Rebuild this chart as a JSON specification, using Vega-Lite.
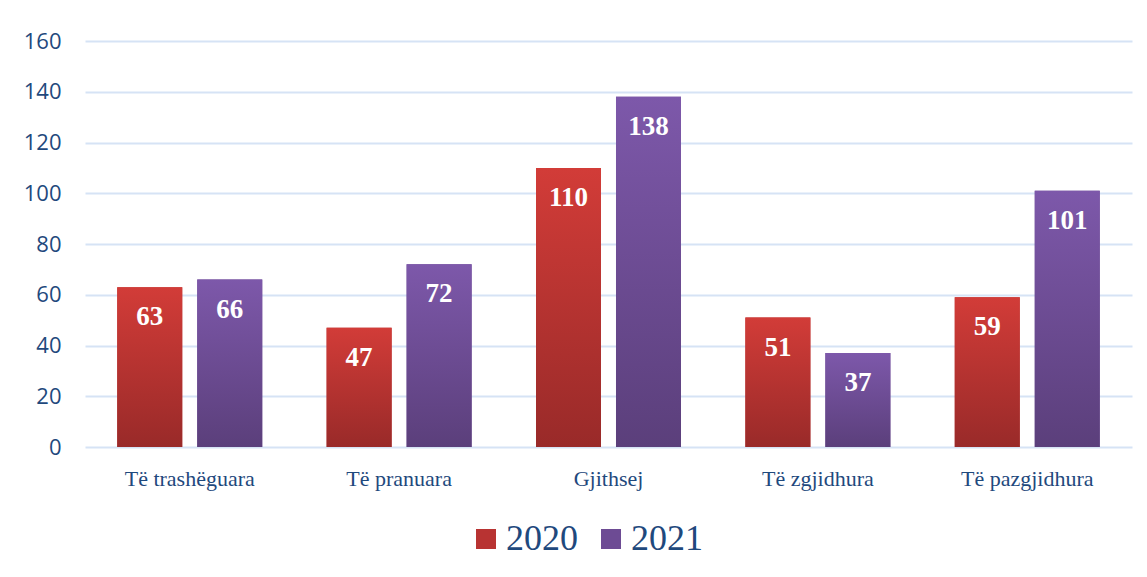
{
  "$schema": "https://vega.github.io/schema/vega-lite/v6.json",
  "width": 1047,
  "height": 406,
  "autosize": {"type": "none"},
  "padding": {"left": 85, "top": 41, "right": 15, "bottom": 130},
  "background": "white",
  "config": {
    "view": {"stroke": null},
    "axis": {"domain": false, "ticks": false, "title": null}
  },
  "data": {
    "values": [
      {"category": "Të trashëguara", "year": "2020", "value": 63},
      {"category": "Të trashëguara", "year": "2021", "value": 66},
      {"category": "Të pranuara", "year": "2020", "value": 47},
      {"category": "Të pranuara", "year": "2021", "value": 72},
      {"category": "Gjithsej", "year": "2020", "value": 110},
      {"category": "Gjithsej", "year": "2021", "value": 138},
      {"category": "Të zgjidhura", "year": "2020", "value": 51},
      {"category": "Të zgjidhura", "year": "2021", "value": 37},
      {"category": "Të pazgjidhura", "year": "2020", "value": 59},
      {"category": "Të pazgjidhura", "year": "2021", "value": 101}
    ]
  },
  "encoding": {
    "x": {
      "field": "category", "type": "nominal", "sort": null,
      "scale": {"paddingInner": 0.3075, "paddingOuter": 0.154},
      "axis": {"labelAngle": 0, "labelFont": "Liberation Serif", "labelFontSize": 22, "labelColor": "#1f497d", "labelPadding": 21, "grid": false}
    },
    "xOffset": {"field": "year", "type": "nominal", "scale": {"domain": ["2020", "2021"], "paddingInner": 0.1875, "paddingOuter": 0}},
    "y": {
      "field": "value", "type": "quantitative",
      "scale": {"domain": [0, 160]},
      "axis": {"values": [0, 20, 40, 60, 80, 100, 120, 140, 160], "labelFont": "Open Sans", "labelFontSize": 22, "labelColor": "#1f497d", "labelPadding": 24, "grid": true, "gridColor": "#d6e3f5", "gridWidth": 2}
    }
  },
  "layer": [
    {
      "mark": {"type": "bar"},
      "encoding": {
        "color": {
          "field": "year", "type": "nominal",
          "scale": {"domain": ["2020", "2021"], "range": ["#b83332", "#6d4b94"]},
          "legend": {
            "title": null, "orient": "none", "direction": "horizontal",
            "legendX": 383, "legendY": 480,
            "symbolType": "square", "symbolSize": 400, "symbolStrokeWidth": 0, "symbolOpacity": 1,
            "labelFont": "Liberation Serif", "labelFontSize": 36, "labelColor": "#1f497d",
            "labelOffset": 2, "columnPadding": 15
          }
        }
      }
    },
    {
      "transform": [{"filter": "datum.year === '2020'"}],
      "mark": {"type": "bar", "color": {"gradient": "linear", "x1": 0, "y1": 0, "x2": 0, "y2": 1, "stops": [{"offset": 0, "color": "#d23c38"}, {"offset": 1, "color": "#992a29"}]}}
    },
    {
      "transform": [{"filter": "datum.year === '2021'"}],
      "mark": {"type": "bar", "color": {"gradient": "linear", "x1": 0, "y1": 0, "x2": 0, "y2": 1, "stops": [{"offset": 0, "color": "#7d58aa"}, {"offset": 1, "color": "#5b3f7b"}]}}
    },
    {
      "mark": {"type": "text", "baseline": "middle", "dy": 30, "color": "white", "font": "Liberation Serif", "fontWeight": "bold", "fontSize": 27},
      "encoding": {"text": {"field": "value", "type": "quantitative"}}
    }
  ]
}
